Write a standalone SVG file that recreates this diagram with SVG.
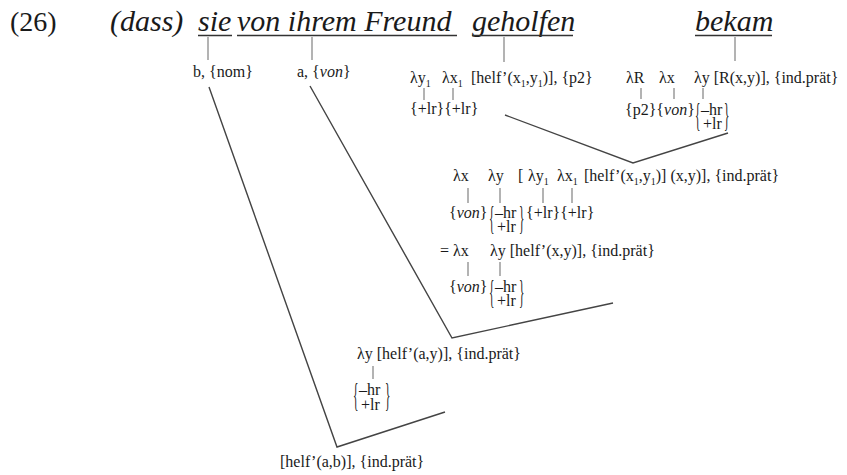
<svg xmlns="http://www.w3.org/2000/svg" width="847" height="475" viewBox="0 0 847 475">
<style>
text{font-family:"Liberation Serif","Times New Roman",serif;fill:#1a1a1a}
.ti{font-size:30px;font-style:italic}
.num{font-size:28px}
.s{font-size:16px}
.sub{font-size:10px}
.it{font-style:italic}
.br{font-size:16px}
.ul{stroke:#333;stroke-width:1.3}
.v{stroke:#8a8a8a;stroke-width:1.3}
.c{stroke:#444;stroke-width:1.4;fill:none}
</style>
<rect width="847" height="475" fill="#fff"/>

<g id="connectors">
  <line class="v" x1="208" y1="37" x2="208" y2="60"/>
  <line class="v" x1="312" y1="37" x2="312" y2="60"/>
  <line class="v" x1="504" y1="37" x2="504" y2="62"/>
  <line class="v" x1="735" y1="37" x2="735" y2="61"/>
  <polyline class="c" points="209,87 337,447 445,412"/>
  <polyline class="c" points="310,86 452,338 613,303"/>
  <polyline class="c" points="505,115 633,163 728,133"/>
</g>

<g id="ex-num"><text class="num" x="10" y="31">(26)</text></g>
<g id="w-dass"><text class="ti" x="110" y="31">(dass)</text></g>
<g id="w-sie"><text class="ti" x="198" y="31">sie</text><line class="ul" x1="198" y1="35.5" x2="232" y2="35.5"/></g>
<g id="w-von"><text class="ti" x="237" y="31">von ihrem Freund</text><line class="ul" x1="237" y1="35.5" x2="457" y2="35.5"/></g>
<g id="w-geholfen"><text class="ti" x="472" y="31">geholfen</text><line class="ul" x1="472" y1="35.5" x2="573" y2="35.5"/></g>
<g id="w-bekam"><text class="ti" x="695" y="31">bekam</text><line class="ul" x1="695" y1="35.5" x2="772" y2="35.5"/></g>

<g id="n-b"><text class="s" x="193" y="77">b, {nom}</text></g>
<g id="n-a"><text class="s" x="297" y="77">a, {<tspan class="it">von</tspan>}</text></g>

<g id="n-geholfen">
  <text class="s" y="83"><tspan x="410">λy</tspan><tspan class="sub" dy="4">1</tspan><tspan x="442" dy="-4">λx</tspan><tspan class="sub" dy="4">1</tspan><tspan x="471" dy="-4">[helf’(x</tspan><tspan class="sub" dy="4">1</tspan><tspan dy="-4">,y</tspan><tspan class="sub" dy="4">1</tspan><tspan dy="-4">)], {p2}</tspan></text>
  <line class="v" x1="424" y1="88" x2="424" y2="100"/>
  <line class="v" x1="453" y1="88" x2="453" y2="100"/>
  <text class="s" x="410" y="114">{+lr}{+lr}</text>
</g>

<g id="n-bekam">
  <text class="s" y="83"><tspan x="626">λR</tspan><tspan x="659">λx</tspan><tspan x="694">λy [R(x,y)], {ind.prät}</tspan></text>
  <line class="v" x1="641" y1="88" x2="641" y2="99"/>
  <line class="v" x1="674" y1="88" x2="674" y2="99"/>
  <line class="v" x1="703" y1="88" x2="703" y2="99"/>
  <text class="s" x="625" y="115">{p2}{<tspan class="it">von</tspan>}</text>
  <text class="br" transform="translate(695,126) scale(0.7,2.1)">{</text>
  <text class="s" x="701" y="115">–hr</text>
  <text class="br" transform="translate(724,126) scale(0.7,2.1)">}</text>
  <text class="s" x="703" y="129">+lr</text>
</g>

<g id="n-vp">
  <text class="s" y="181"><tspan x="453">λx</tspan><tspan x="488">λy</tspan><tspan x="518">[</tspan><tspan x="528">λy</tspan><tspan class="sub" dy="4">1</tspan><tspan x="557" dy="-4">λx</tspan><tspan class="sub" dy="4">1</tspan><tspan x="584" dy="-4">[helf’(x</tspan><tspan class="sub" dy="4">1</tspan><tspan dy="-4">,y</tspan><tspan class="sub" dy="4">1</tspan><tspan dy="-4">)] (x,y)], {ind.prät}</tspan></text>
  <line class="v" x1="468" y1="188" x2="468" y2="203"/>
  <line class="v" x1="500" y1="188" x2="500" y2="203"/>
  <line class="v" x1="543" y1="188" x2="543" y2="203"/>
  <line class="v" x1="572" y1="188" x2="572" y2="203"/>
  <text class="s" x="449" y="218">{<tspan class="it">von</tspan>}</text>
  <text class="br" transform="translate(489,229) scale(0.7,2.1)">{</text>
  <text class="s" x="495" y="218">–hr</text>
  <text class="br" transform="translate(519,229) scale(0.7,2.1)">}</text>
  <text class="s" x="526" y="218">{+lr}{+lr}</text>
  <text class="s" x="497" y="232">+lr</text>
  <text class="s" y="256"><tspan x="440">=</tspan><tspan x="453">λx</tspan><tspan x="490">λy [helf’(x,y)], {ind.prät}</tspan></text>
  <line class="v" x1="468" y1="262" x2="468" y2="276"/>
  <line class="v" x1="500" y1="262" x2="500" y2="276"/>
  <text class="s" x="449" y="292">{<tspan class="it">von</tspan>}</text>
  <text class="br" transform="translate(489,303) scale(0.7,2.1)">{</text>
  <text class="s" x="495" y="292">–hr</text>
  <text class="br" transform="translate(519,303) scale(0.7,2.1)">}</text>
  <text class="s" x="497" y="306">+lr</text>
</g>

<g id="n-vp2">
  <text class="s" x="357" y="359">λy [helf’(a,y)], {ind.prät}</text>
  <line class="v" x1="373" y1="366" x2="373" y2="379"/>
  <text class="br" transform="translate(353,406) scale(0.7,2.1)">{</text>
  <text class="s" x="359" y="395">–hr</text>
  <text class="br" transform="translate(385,406) scale(0.7,2.1)">}</text>
  <text class="s" x="361" y="410">+lr</text>
</g>

<g id="n-s"><text class="s" x="280" y="467">[helf’(a,b)], {ind.prät}</text></g>
</svg>
